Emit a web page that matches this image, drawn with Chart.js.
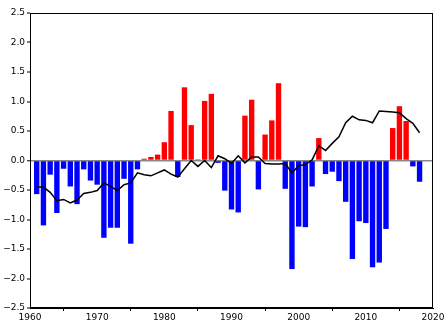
<!DOCTYPE html>
<html>
<head>
<meta charset="utf-8">
<script src="https://cdn.jsdelivr.net/npm/chart.js@4"></script>
<style>
  html, body { margin: 0; padding: 0; background: #fff; }
  #wrap { width: 447px; height: 324px; }
</style>
</head>
<body>
<div id="wrap"><canvas id="c" width="447" height="324"></canvas></div>
<script>
const years = [];
for (let y = 1961; y <= 2018; y++) years.push(y);

// yearly anomalies
const anomalies = [
  -0.57, -1.10, -0.24, -0.89, -0.14, -0.44, -0.74, -0.15, -0.34, -0.41,
  -1.31, -1.14, -1.14, -0.31, -1.41, -0.15, 0.03, 0.06, 0.10, 0.31,
  0.84, -0.28, 1.24, 0.60, 0.02, 1.01, 1.13, -0.04, -0.51, -0.83,
  -0.88, 0.76, 1.03, -0.49, 0.44, 0.68, 1.31, -0.48, -1.84, -1.12,
  -1.13, -0.44, 0.38, -0.23, -0.19, -0.35, -0.70, -1.67, -1.03, -1.06,
  -1.81, -1.73, -1.16, 0.55, 0.92, 0.67, -0.10, -0.36
];

// smoothed curve (black line)
const smoothed = [
  -0.45, -0.45, -0.54, -0.68, -0.66, -0.72, -0.67, -0.56, -0.54, -0.51,
  -0.38, -0.44, -0.51, -0.41, -0.38, -0.21, -0.24, -0.26, -0.21, -0.16,
  -0.23, -0.28, -0.14, 0.00, -0.10, 0.00, -0.12, 0.08, 0.03, -0.05,
  0.08, -0.04, 0.06, 0.06, -0.05, -0.06, -0.06, -0.05, -0.21, -0.09,
  -0.07, 0.01, 0.25, 0.17, 0.29, 0.40, 0.64, 0.75, 0.69, 0.68,
  0.64, 0.84, 0.83, 0.82, 0.81, 0.71, 0.63, 0.47
];

const xTicks = [1960, 1970, 1980, 1990, 2000, 2010, 2020];
const yTicks = [-2.5, -2.0, -1.5, -1.0, -0.5, 0.0, 0.5, 1.0, 1.5, 2.0, 2.5];

const fmt = (v) => v.toFixed(1).replace('-', '\u2212');

const frame = {
  id: 'frame',
  afterDraw(chart) {
    const { ctx, chartArea: a } = chart;
    ctx.save();
    ctx.strokeStyle = '#000';
    ctx.lineWidth = 1;
    ctx.strokeRect(a.left + 0.5, a.top + 0.5, a.right - a.left - 1, a.bottom - a.top - 1);
    ctx.restore();
  },
};

new Chart(document.getElementById('c'), {
  type: 'bar',
  data: {
    datasets: [
      {
        type: 'line',
        data: years.map((x, i) => ({ x, y: smoothed[i] })),
        borderColor: '#000',
        borderWidth: 1.5,
        pointRadius: 0,
        tension: 0,
        order: 0,
      },
      {
        type: 'bar',
        data: years.map((x, i) => ({ x, y: anomalies[i] })),
        backgroundColor: anomalies.map((v) => (v >= 0 ? '#ff0000' : '#0000ff')),
        borderWidth: 0,
        barPercentage: 1,
        categoryPercentage: 0.8,
        order: 1,
      },
    ],
  },
  options: {
    responsive: false,
    animation: false,
    layout: { padding: { top: 13, right: 14, left: 0, bottom: 0 } },
    plugins: { legend: { display: false }, tooltip: { enabled: false } },
    scales: {
      x: {
        type: 'linear',
        min: 1960,
        max: 2020,
        offset: false,
        afterBuildTicks: (s) => { s.ticks = xTicks.map((value) => ({ value })); },
        afterFit: (s) => { s.height = 16; },
        ticks: {
          callback: (v) => String(v),
          color: '#000',
          padding: 1,
          maxRotation: 0,
          font: { family: 'DejaVu Sans', size: 9 },
        },
        grid: { drawOnChartArea: false, tickLength: 3, tickColor: '#000' },
        border: { color: '#000' },
      },
      y: {
        min: -2.5,
        max: 2.5,
        afterBuildTicks: (s) => { s.ticks = yTicks.map((value) => ({ value })); },
        afterFit: (s) => { s.width = 30; },
        ticks: {
          callback: (v) => fmt(v),
          color: '#000',
          padding: 2,
          font: { family: 'DejaVu Sans', size: 9 },
        },
        grid: {
          drawOnChartArea: true,
          color: (c) => (c.tick && c.tick.value === 0 ? '#888' : 'rgba(0,0,0,0)'),
          lineWidth: (c) => (c.tick && c.tick.value === 0 ? 1.5 : 0),
          tickLength: 3,
          tickColor: '#000',
          tickWidth: 1,
        },
        border: { color: '#000' },
      },
    },
  },
  plugins: [frame],
});
</script>
</body>
</html>
